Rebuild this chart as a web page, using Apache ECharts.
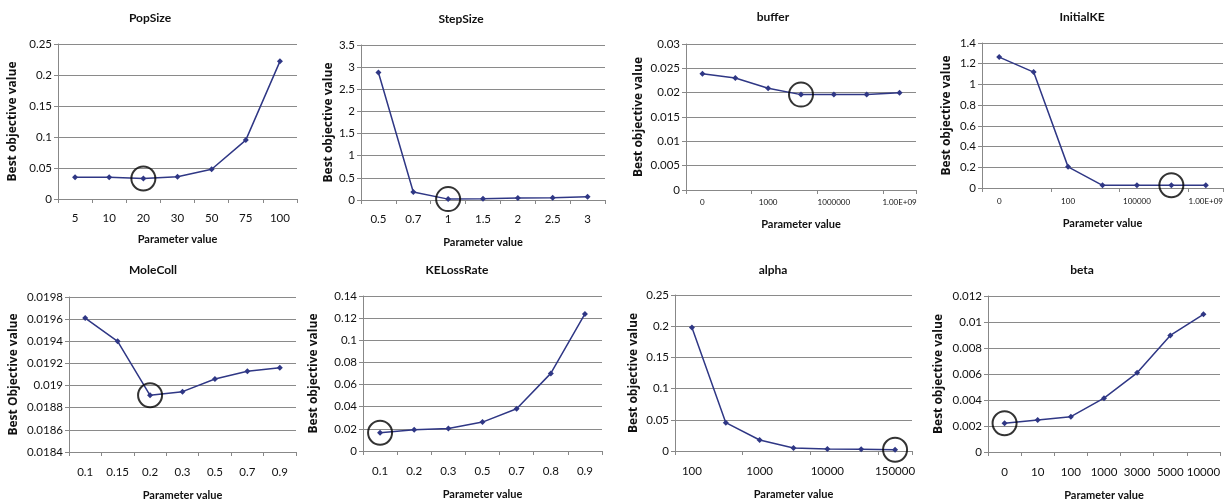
<!DOCTYPE html>
<html><head><meta charset="utf-8">
<script src="https://cdn.jsdelivr.net/npm/echarts@6/dist/echarts.min.js"></script>
<style>html,body{margin:0;padding:0;background:#fff}#c{width:1231px;height:499px}</style>
</head><body><div id="c"></div>
<script>
// ---- data ----
const popSizeCats = ['5','10','20','30','50','75','100'];
const popSizeVals = [0.035,0.035,0.033,0.036,0.048,0.095,0.222];
const popSizeBest = 2;

const stepSizeCats = ['0.5','0.7','1','1.5','2','2.5','3'];
const stepSizeVals = [2.88,0.18,0.02,0.03,0.045,0.05,0.075];
const stepSizeBest = 2;

const bufferCats = ['0','10','1000','10000','1000000','1.00E+07','1.00E+09'];
const bufferVals = [0.0239,0.0230,0.0209,0.0196,0.0196,0.0196,0.0200];
const bufferBest = 3;

const initialKECats = ['0','10','100','1000','100000','1.00E+07','1.00E+09'];
const initialKEVals = [1.264,1.119,0.204,0.026,0.026,0.026,0.026];
const initialKEBest = 5;

const moleCollCats = ['0.1','0.15','0.2','0.3','0.5','0.7','0.9'];
const moleCollVals = [0.01961,0.01940,0.018912,0.018945,0.019059,0.019129,0.019162];
const moleCollBest = 2;

const keLossCats = ['0.1','0.2','0.3','0.5','0.7','0.8','0.9'];
const keLossVals = [0.0165,0.0192,0.0204,0.0261,0.0381,0.0701,0.1238];
const keLossBest = 0;

const alphaCats = ['100','500','1000','5000','10000','50000','150000'];
const alphaVals = [0.198,0.0454,0.0176,0.0048,0.0032,0.0027,0.0021];
const alphaBest = 6;

const betaCats = ['0','10','100','1000','3000','5000','10000'];
const betaVals = [0.00221,0.00247,0.00272,0.00414,0.00609,0.00897,0.01059];
const betaBest = 0;

// y-axis ranges [min,max,interval]
const yRanges = [
  [0,0.25,0.05],[0,3.5,0.5],[0,0.03,0.005],[0,1.4,0.2],
  [0.0184,0.0198,0.0002],[0,0.14,0.02],[0,0.25,0.05],[0,0.012,0.002]
];
const titles = ['PopSize','StepSize','buffer','InitialKE','MoleColl','KELossRate','alpha','beta'];
const yNames = ['Best objective value','Best objective value','Best objective value','Best objective value',
  'Best Objective value','Best objective value','Best objective value','Best objective value'];
const xName = 'Parameter value';

const cats = [popSizeCats,stepSizeCats,bufferCats,initialKECats,moleCollCats,keLossCats,alphaCats,betaCats];
const vals = [popSizeVals,stepSizeVals,bufferVals,initialKEVals,moleCollVals,keLossVals,alphaVals,betaVals];
const bests = [popSizeBest,stepSizeBest,bufferBest,initialKEBest,moleCollBest,keLossBest,alphaBest,betaBest];

// ---- layout ----
const layout = [
  {l:58, t:44, w:239, h:155, tx:150, ty:12, yGap:39, xGap:35, lm:13, lf:11.5, li:0},
  {l:361,t:45, w:244, h:155, tx:461, ty:13, yGap:26, xGap:37, lm:13, lf:11.5, li:0},
  {l:686,t:44, w:230, h:146, tx:773, ty:11, yGap:41, xGap:29, lm:8,  lf:8,  li:1},
  {l:982,t:43, w:241, h:145, tx:1082,ty:11, yGap:29, xGap:30, lm:9,  lf:8,  li:1},
  {l:69, t:297,w:227, h:155, tx:153, ty:264,yGap:49, xGap:38, lm:14, lf:11.5, li:0},
  {l:363,t:296,w:239, h:155, tx:457, ty:264,yGap:43, xGap:38, lm:14, lf:11.5, li:0},
  {l:675,t:295,w:237, h:156, tx:773, ty:264,yGap:35, xGap:38, lm:14, lf:11.5, li:1},
  {l:988,t:296,w:232, h:156, tx:1082,ty:264,yGap:43, xGap:38, lm:14, lf:11.5, li:0}
];

const font = 'Lato, "Open Sans", sans-serif';
const lineColor = '#2f3785';
const grids=[],xAxes=[],yAxes=[],series=[],titleArr=[];
for (let i=0;i<8;i++){
  const L = layout[i];
  grids.push({left:L.l, top:L.t, width:L.w, height:L.h, containLabel:false, outerBoundsMode:'none'});
  titleArr.push({text:titles[i], left:L.tx, top:L.ty, textAlign:'center', padding:0,
    textStyle:{fontFamily:font, fontSize:12, fontWeight:'bold', color:'#111'}});
  xAxes.push({type:'category', gridIndex:i, data:cats[i], boundaryGap:true,
    name:xName, nameLocation:'middle', nameGap:L.xGap,
    nameTextStyle:{fontFamily:font, fontSize:11, fontWeight:'bold', color:'#111'},
    axisLine:{lineStyle:{color:'#888', width:1}},
    axisTick:{show:true, length:4, lineStyle:{color:'#888'}},
    axisLabel:{interval:L.li, margin:L.lm, fontFamily:font, fontSize:L.lf, color:'#111'},
    splitLine:{show:false}});
  const r = yRanges[i];
  yAxes.push({type:'value', gridIndex:i, min:r[0], max:r[1], interval:r[2],
    name:yNames[i], nameLocation:'middle', nameGap:L.yGap, nameRotate:90,
    nameTextStyle:{fontFamily:'"Open Sans", Lato, sans-serif', fontSize:12, fontWeight:'bold', color:'#111'},
    axisLine:{show:true, lineStyle:{color:'#888', width:1}},
    axisTick:{show:true, length:4, lineStyle:{color:'#888'}},
    axisLabel:{fontFamily:font, fontSize:11.5, color:'#111', margin:6},
    splitLine:{show:true, lineStyle:{color:'#8a8a8a', width:1}}});
  series.push({type:'line', xAxisIndex:i, yAxisIndex:i, data:vals[i],
    symbol:'diamond', symbolSize:6, showSymbol:true,
    lineStyle:{color:lineColor, width:1.5}, itemStyle:{color:lineColor}, animation:false, silent:true});
  series.push({type:'scatter', xAxisIndex:i, yAxisIndex:i,
    data:[[bests[i], vals[i][bests[i]]]], symbol:'circle', symbolSize:24,
    itemStyle:{color:'rgba(0,0,0,0)', borderColor:'#000', borderWidth:2}, animation:false, silent:true, z:5});
}
const chart = echarts.init(document.getElementById('c'), null, {renderer:'canvas'});
chart.setOption({backgroundColor:'#fff', animation:false, title:titleArr, grid:grids, xAxis:xAxes, yAxis:yAxes, series:series});
</script></body></html>
